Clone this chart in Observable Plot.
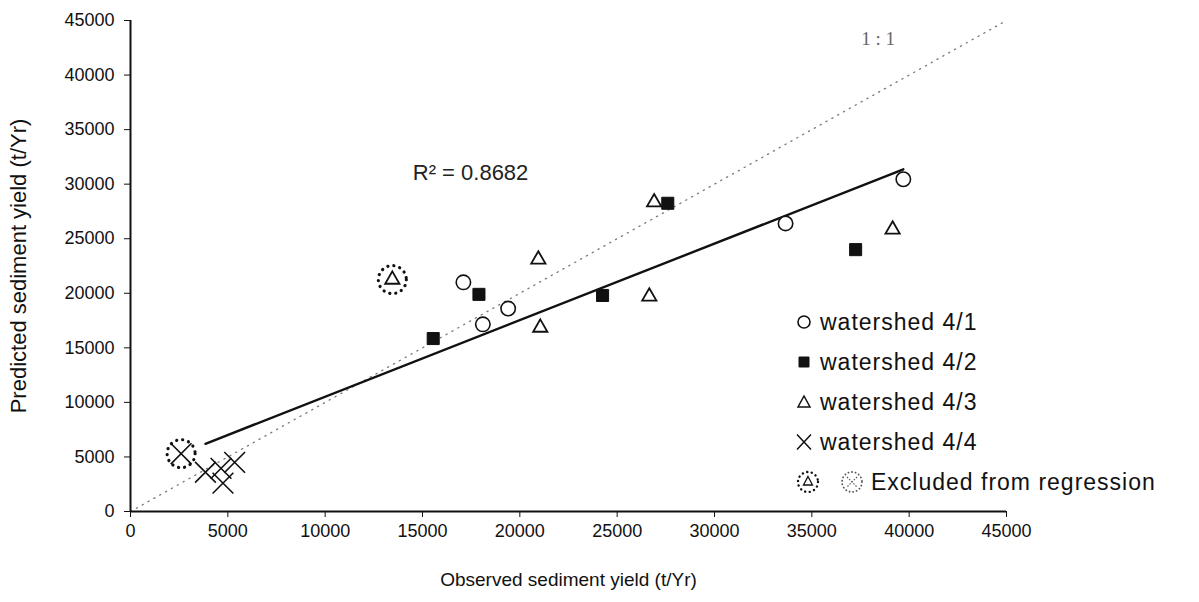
<!DOCTYPE html>
<html><head><meta charset="utf-8">
<script src="https://cdn.jsdelivr.net/npm/d3@7"></script>
<script src="https://cdn.jsdelivr.net/npm/@observablehq/plot@0.6"></script>
<style>
body{margin:0;background:#fff;font-family:"Liberation Sans",Arial,sans-serif;}
#wrap{position:relative;width:1199px;height:602px;overflow:hidden;}
#legend{position:absolute;left:795px;top:302px;font-size:23px;color:#111;letter-spacing:1px;}
.row{height:40px;display:flex;align-items:center;white-space:nowrap;}
.row svg{flex:none;}
</style></head><body><div id="wrap"><div id="legend"></div></div>
<script>
// ---- data ----
const seriesNames = ["watershed 4/1", "watershed 4/2", "watershed 4/3", "watershed 4/4"];
const ws1Observed  = [17100, 18100, 19400, 33650, 39700];
const ws1Predicted = [21000, 17150, 18600, 26400, 30450];
const ws2Observed  = [15550, 17900, 24250, 27600, 37250];
const ws2Predicted = [15850, 19900, 19800, 28250, 24000];
const ws3Observed  = [20950, 21050, 26650, 26900, 39150];
const ws3Predicted = [23100, 16850, 19700, 28350, 25850];
const ws4Observed  = [3850, 4650, 4750, 5350];
const ws4Predicted = [3600, 3950, 2600, 4500];
// points excluded from the regression
const excludedSeries    = ["watershed 4/3", "watershed 4/4"];
const excludedObserved  = [13450, 2600];
const excludedPredicted = [21250, 5300];
const oneToOne = [0, 45000];
const axisTicks = [0, 5000, 10000, 15000, 20000, 25000, 30000, 35000, 40000, 45000];
const rSquaredLabel = "R² = 0.8682";
const rSquaredAt = [14500, 31070];
const oneToOneLabel = "1 : 1";
const oneToOneLabelAt = [38400, 43300];

// ---- build tables ----
const mk = (xs, ys, s) => xs.map((x, i) => ({obs: x, pred: ys[i], series: s}));
const ws1 = mk(ws1Observed, ws1Predicted, seriesNames[0]);
const ws2 = mk(ws2Observed, ws2Predicted, seriesNames[1]);
const ws3 = mk(ws3Observed, ws3Predicted, seriesNames[2]);
const ws4 = mk(ws4Observed, ws4Predicted, seriesNames[3]);
const excluded = excludedObserved.map((x, i) => ({obs: x, pred: excludedPredicted[i], series: excludedSeries[i]}));
const included = [...ws1, ...ws2, ...ws3, ...ws4];
const exTri = excluded.filter(d => d.series === seriesNames[2]);
const exX = excluded.filter(d => d.series === seriesNames[3]);
const diag = oneToOne.map(v => ({obs: v, pred: v}));

const chart = Plot.plot({
  width: 1199, height: 602,
  marginLeft: 130, marginRight: 193, marginTop: 20, marginBottom: 91,
  style: {fontFamily: '"Liberation Sans", Arial, sans-serif', fontSize: "18px", color: "#111", background: "#fff"},
  x: {domain: [0, 45000], axis: null},
  y: {domain: [0, 45000], axis: null},
  marks: [
    Plot.line(diag, {x: "obs", y: "pred", stroke: "#777", strokeWidth: 1.3, strokeDasharray: "1.2,5.5"}),
    Plot.linearRegressionY(included, {x: "obs", y: "pred", ci: 0, stroke: "#111", strokeWidth: 2.4}),
    Plot.ruleX([0], {stroke: "#111", strokeWidth: 2}),
    Plot.ruleY([0], {stroke: "#111", strokeWidth: 2}),
    Plot.axisX({ticks: axisTicks, tickSize: 6, tickPadding: 7, tickFormat: d => String(d), label: null, fontSize: 18}),
    Plot.axisY({ticks: axisTicks, tickSize: 6, tickPadding: 10, tickFormat: d => String(d), label: null, fontSize: 18}),
    Plot.text(["Observed sediment yield (t/Yr)"], {frameAnchor: "bottom", dy: 74, fontSize: 19, fill: "#111"}),
    Plot.text(["Predicted sediment yield (t/Yr)"], {frameAnchor: "left", dx: -112, rotate: -90, textAnchor: "middle", fontSize: 22, fill: "#111"}),
    Plot.dot(ws4, {x: "obs", y: "pred", symbol: "times", r: 9.5, stroke: "#111", strokeWidth: 1.6}),
    Plot.dot(exX, {x: "obs", y: "pred", symbol: "times", r: 9.5, stroke: "#111", strokeWidth: 1.6}),
    Plot.dot(ws3, {x: "obs", y: "pred", symbol: "triangle", r: 5.3, fill: "#fff", stroke: "#111", strokeWidth: 1.8}),
    Plot.dot(exTri, {x: "obs", y: "pred", symbol: "triangle", r: 5.3, fill: "#fff", stroke: "#111", strokeWidth: 1.8}),
    Plot.dot(ws2, {x: "obs", y: "pred", symbol: "square", r: 6.8, fill: "#111", stroke: "#111", strokeWidth: 1}),
    Plot.dot(ws1, {x: "obs", y: "pred", symbol: "circle", r: 7.2, fill: "#fff", stroke: "#111", strokeWidth: 1.6}),
    Plot.dot(excluded, {x: "obs", y: "pred", r: 14, fill: "none", stroke: "#111", strokeWidth: 3.2, strokeDasharray: "0.1,6", strokeLinecap: "round"}),
    Plot.text([rSquaredLabel], {x: () => rSquaredAt[0], y: () => rSquaredAt[1], textAnchor: "start", fontSize: 22, letterSpacing: "2px", fill: "#222"}),
    Plot.text([oneToOneLabel], {x: () => oneToOneLabelAt[0], y: () => oneToOneLabelAt[1], fontSize: 19, fontFamily: '"Liberation Serif", serif', fill: "#666"})
  ]
});
const wrap = document.getElementById("wrap");
wrap.insertBefore(chart, wrap.firstChild);

// ---- legend ----
const sym = {
  circle: '<circle cx="9" cy="10" r="6" fill="#fff" stroke="#111" stroke-width="1.6"/>',
  square: '<rect x="3.5" y="4.5" width="11" height="11" rx="1" fill="#111"/>',
  triangle: '<path d="M9,4 L15,15 L3,15 Z" fill="#fff" stroke="#111" stroke-width="1.5"/>',
  times: '<path d="M2,2.5 L16,17.5 M16,2.5 L2,17.5" stroke="#111" stroke-width="1.5"/>'
};
const legendSymbols = ["circle", "square", "triangle", "times"];
const legend = document.getElementById("legend");
seriesNames.forEach((name, i) => {
  const row = document.createElement("div");
  row.className = "row";
  row.innerHTML = `<svg width="22" height="20" style="margin-right:3px">${sym[legendSymbols[i]]}</svg><span>${name}</span>`;
  legend.appendChild(row);
});
const exRow = document.createElement("div");
exRow.className = "row";
exRow.innerHTML = `<svg width="26" height="26" style="margin-right:18px"><circle cx="13" cy="13" r="10" fill="none" stroke="#111" stroke-width="2.4" stroke-dasharray="0.1,4.5" stroke-linecap="round"/><path d="M13,7.5 L17.5,16 L8.5,16 Z" fill="#fff" stroke="#111" stroke-width="1.3"/></svg>`
 + `<svg width="26" height="26" style="margin-right:6px"><circle cx="13" cy="13" r="10" fill="none" stroke="#555" stroke-width="1.8" stroke-dasharray="0.1,3.5" stroke-linecap="round"/><path d="M8,8 L18,18 M18,8 L8,18" stroke="#555" stroke-width="1.2" stroke-dasharray="1.5,1.5"/></svg>`
 + `<span>Excluded from regression</span>`;
legend.appendChild(exRow);
</script>
</body></html>
